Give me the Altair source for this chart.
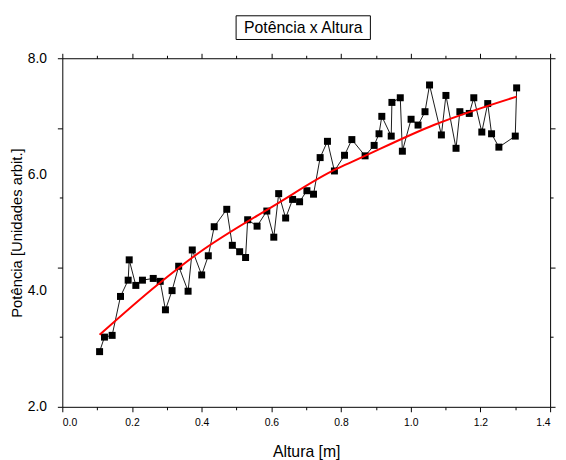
import altair as alt
import pandas as pd

TITLE = "Potência x Altura"
X_TITLE = "Altura [m]"
Y_TITLE = "Potência [Unidades arbit.]"

altura = [0.107, 0.121, 0.143, 0.167, 0.189, 0.192, 0.211, 0.230, 0.261, 0.281,
          0.296, 0.315, 0.334, 0.361, 0.373, 0.400, 0.419, 0.436, 0.472, 0.488,
          0.509, 0.526, 0.532, 0.559, 0.587, 0.607, 0.621, 0.641, 0.661, 0.681,
          0.702, 0.721, 0.740, 0.761, 0.781, 0.810, 0.831, 0.869, 0.895, 0.909,
          0.917, 0.944, 0.946, 0.970, 0.976, 1.001, 1.021, 1.041, 1.054, 1.088,
          1.101, 1.130, 1.141, 1.168, 1.181, 1.204, 1.221, 1.232, 1.253, 1.300,
          1.304]
potencia = [2.95, 3.20, 3.23, 3.90, 4.18, 4.53, 4.09, 4.18, 4.21, 4.16,
            3.67, 4.00, 4.42, 3.99, 4.70, 4.27, 4.60, 5.10, 5.40, 4.78,
            4.67, 4.57, 5.22, 5.11, 5.37, 4.92, 5.67, 5.25, 5.57, 5.53,
            5.72, 5.66, 6.29, 6.57, 6.06, 6.33, 6.60, 6.32, 6.50, 6.70,
            7.00, 6.66, 7.24, 7.32, 6.40, 6.95, 6.85, 7.08, 7.54, 6.68,
            7.36, 6.45, 7.08, 7.05, 7.32, 6.73, 7.22, 6.70, 6.47, 6.66,
            7.49]

# fitted curve
fit_altura = [0.107, 0.275, 0.388, 0.615, 0.785, 0.842, 1.068, 1.304]
fit_potencia = [3.24, 4.11, 4.635, 5.49, 6.09, 6.245, 6.855, 7.34]

X_MAJOR = [0.0, 0.2, 0.4, 0.6, 0.8, 1.0, 1.2, 1.4]
X_MINOR = [0.1, 0.3, 0.5, 0.7, 0.9, 1.1, 1.3]
Y_LABELS = [2.0, 4.0, 6.0, 8.0]
Y_TICK_LONG = [2.0, 4.4, 6.8, 8.0]
Y_TICK_SHORT = [3.2, 5.6]

df = pd.DataFrame({"altura": altura, "potencia": potencia})
fit_df = pd.DataFrame({"altura": fit_altura, "potencia": fit_potencia})
title_df = pd.DataFrame({"t": [TITLE]})

FONT = "Liberation Sans"
xs = alt.Scale(domain=[0, 1.4], nice=False, zero=False)
ys = alt.Scale(domain=[2, 8], nice=False, zero=False)


def tick_axis(orient, values, size, domain):
    return alt.Axis(orient=orient, values=values, tickSize=size, labels=False,
                    domain=domain, title=None, grid=False)


base = alt.Chart(df)

line = base.mark_line(color="black", strokeWidth=0.9).encode(
    x=alt.X("altura:Q", scale=xs,
            axis=alt.Axis(orient="bottom", values=X_MAJOR, format=".1f", tickSize=5,
                          labelPadding=6, labelFontSize=10.5, title=X_TITLE,
                          titleFontSize=16, titlePadding=16, domain=True, grid=False)),
    y=alt.Y("potencia:Q", scale=ys,
            axis=alt.Axis(orient="left", values=Y_LABELS, format=".1f", ticks=False,
                          tickSize=0, labelPadding=16, labelFontSize=14, title=Y_TITLE,
                          titleFontSize=15, titlePadding=3, domain=True, grid=False)),
)

points = base.mark_square(color="black", size=50, opacity=1).encode(
    x=alt.X("altura:Q", scale=xs, axis=tick_axis("bottom", X_MINOR, 3, False)),
    y=alt.Y("potencia:Q", scale=ys, axis=tick_axis("left", Y_TICK_LONG, 5, False)),
)

fit = alt.Chart(fit_df).mark_line(color="#ff0000", strokeWidth=2, interpolate="monotone").encode(
    x=alt.X("altura:Q", scale=xs, axis=tick_axis("top", X_MAJOR, 5, True)),
    y=alt.Y("potencia:Q", scale=ys, axis=tick_axis("left", Y_TICK_SHORT, 3, False)),
)

ghost1 = base.mark_point(opacity=0).encode(
    x=alt.X("altura:Q", scale=xs, axis=tick_axis("top", X_MINOR, 3, False)),
    y=alt.Y("potencia:Q", scale=ys, axis=tick_axis("right", Y_TICK_LONG, 5, True)),
)

ghost2 = base.mark_point(opacity=0).encode(
    x=alt.X("altura:Q", scale=xs, axis=None),
    y=alt.Y("potencia:Q", scale=ys, axis=tick_axis("right", Y_TICK_SHORT, 3, False)),
)

box = alt.Chart(title_df).mark_rect(fill="white", stroke="black", strokeWidth=1).encode(
    x=alt.value(176), x2=alt.value(312), y=alt.value(-43), y2=alt.value(-19)
)
title_text = alt.Chart(title_df).mark_text(
    font=FONT, fontSize=16, align="center", baseline="middle", color="black"
).encode(text="t:N", x=alt.value(244), y=alt.value(-31))

chart = alt.layer(line, points, fit, ghost1, ghost2, box, title_text).resolve_scale(
    x="shared", y="shared"
).resolve_axis(
    x="independent", y="independent"
).properties(
    width=494, height=353,
    autosize=alt.AutoSizeParams(type="none"),
    padding={"left": 55, "top": 48, "right": 8, "bottom": 54},
).configure_view(
    stroke=None
).configure_axis(
    labelFont=FONT, titleFont=FONT, labelColor="black", titleColor="black",
    domainColor="black", tickColor="black", domainWidth=1, tickWidth=1,
    titleFontWeight="normal", grid=False
)

chart.save("out.html", embed_options={"renderer": "svg", "actions": False})
